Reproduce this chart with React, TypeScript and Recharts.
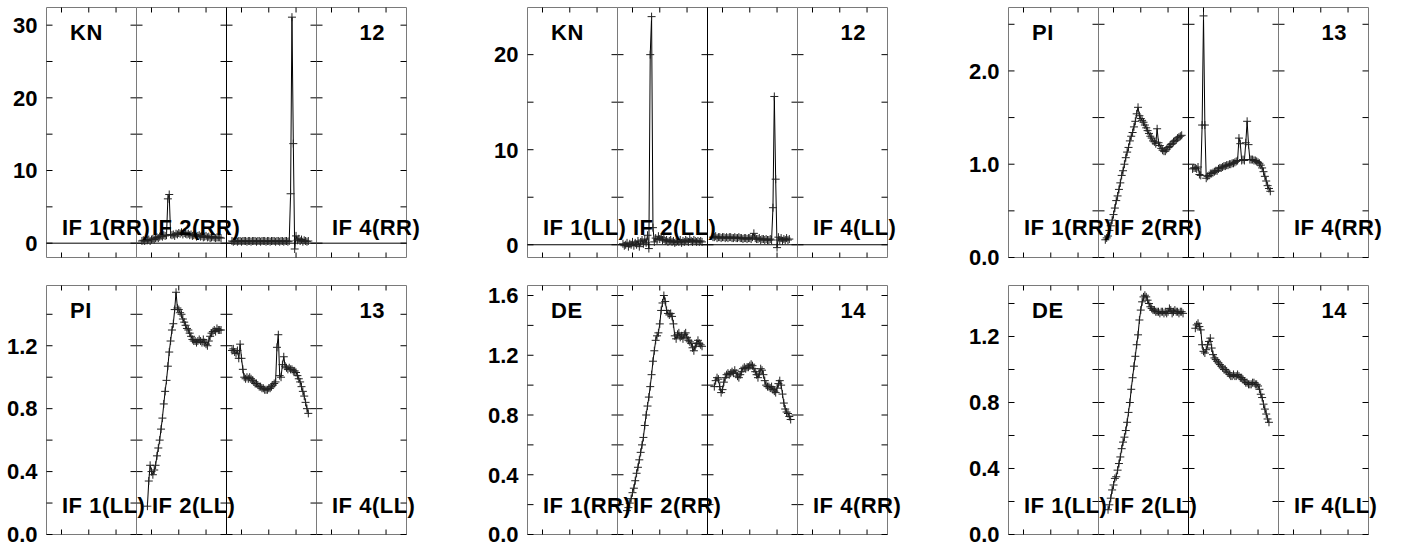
import { LineChart, Line, XAxis, YAxis, ReferenceLine, ReferenceArea } from "recharts";

// channel axis of every IF box
const CHANNEL_DOMAIN: [number, number] = [0, 66];
const CHANNEL_TICKS = [11, 31, 51];
const IF_LABELS = ["IF 1", "IF 2", "IF 3", "IF 4"];
const IF_SHOWN = [true, true, false, true];

// KN, RR, baseline 12
const KN_RR_IF2_START = 4;
const KN_RR_IF2 = [
  0.3, 0.4, 0.3, 0.4, 0.4, 0.5, 0.3, 0.5, 0.6, 0.5,
  0.7, 0.8, 0.7, 0.9, 1.0, 0.9, 1.1, 1.0, 1.1, 6.1,
  6.7, 1.2, 1.1, 1.2, 1.0, 1.3, 1.2, 1.4, 1.3, 1.5,
  1.2, 1.4, 1.3, 1.2, 1.3, 1.1, 1.2, 1.0, 1.1, 1.2,
  0.9, 1.0, 1.1, 0.9, 1.0, 0.8, 0.9, 1.0, 0.8, 0.9,
  0.7, 0.8, 0.9, 0.8, 0.7, 0.8, 0.8, 0.8, 0.7,
];
const KN_RR_IF3_START = 4;
const KN_RR_IF3 = [
  0.3, 0.2, 0.3, 0.3, 0.2, 0.3, 0.3, 0.2, 0.3, 0.3,
  0.3, 0.2, 0.3, 0.3, 0.2, 0.3, 0.3, 0.3, 0.2, 0.3,
  0.3, 0.2, 0.3, 0.3, 0.3, 0.2, 0.3, 0.3, 0.2, 0.3,
  0.3, 0.3, 0.2, 0.3, 0.3, 0.2, 0.3, 0.3, 0.2, 0.3,
  0.3, 0.2, 0.3, 6.8, 31.1, 13.7, -0.8, 1.0, 0.4, 0.6,
  0.3, 0.5, 0.2, 0.4, 0.3, 0.2, 0.3,
];

// KN, LL, baseline 12
const KN_LL_IF2_START = 4;
const KN_LL_IF2 = [
  0.1, -0.1, 0.0, 0.2, -0.2, 0.1, 0.0, 0.3, -0.1, 0.2,
  0.0, 0.4, -0.2, 0.3, 0.5, 0.1, 0.6, 0.2, 1.0, -0.4,
  20.0, 24.0, 1.8, 0.3, 0.7, 0.5, 0.9, 0.6, 0.8, 0.5,
  0.6, 0.4, 0.5, 0.3, 0.4, 0.5, 0.3, 0.4, 0.2, 0.3,
  0.4, 0.3, 0.5, 0.2, 0.4, 0.3, 0.5, 0.4, 0.3, 0.6,
  0.4, 0.3, 0.5, 0.4, 0.3, 0.4, 0.3, 0.4, 0.3,
];
const KN_LL_IF3_START = 4;
const KN_LL_IF3 = [
  0.8, 0.8, 0.9, 0.7, 0.8, 0.8, 0.7, 0.8, 0.8, 0.7,
  0.8, 0.7, 0.8, 0.8, 0.7, 0.7, 0.8, 0.7, 0.7, 0.8,
  0.7, 0.7, 0.6, 0.7, 0.7, 0.6, 0.7, 0.7, 0.6, 0.8,
  1.2, 0.7, 0.6, 0.6, 0.7, 0.5, 0.6, 0.6, 0.5, 0.6,
  0.5, 0.5, 0.6, 0.5, 3.9, 15.6, 6.9, -0.3, 0.8, 0.5,
  0.7, 0.4, 0.6, 0.5, 0.7, 0.5, 0.6,
];

// PI, RR, baseline 13
const PI_RR_IF2_START = 5;
const PI_RR_IF2 = [
  0.19, 0.21, 0.23, 0.29, 0.34, 0.4, 0.46, 0.53, 0.61, 0.66,
  0.73, 0.8, 0.88, 0.93, 1.0, 1.07, 1.13, 1.18, 1.25, 1.3,
  1.34, 1.4, 1.46, 1.54, 1.61, 1.52, 1.49, 1.47, 1.45, 1.42,
  1.39, 1.36, 1.33, 1.3, 1.28, 1.25, 1.24, 1.22, 1.38, 1.23,
  1.2, 1.17, 1.15, 1.14, 1.14, 1.16, 1.18, 1.19, 1.21, 1.22,
  1.24, 1.25, 1.26, 1.28, 1.29, 1.3, 1.31,
];
const PI_RR_IF3_START = 3;
const PI_RR_IF3 = [
  0.95, 0.96, 0.96, 0.95, 0.97, 0.89, 0.88, 1.42, 2.59, 1.42,
  0.85, 0.87, 0.88, 0.9, 0.9, 0.91, 0.92, 0.93, 0.93, 0.95,
  0.96, 0.96, 0.97, 0.98, 0.98, 0.99, 0.99, 1.0, 1.0, 1.01,
  1.01, 1.02, 1.03, 1.04, 1.28, 1.22, 1.04, 1.05, 1.04, 1.23,
  1.46, 1.21, 1.05, 1.05, 1.05, 1.04, 1.04, 1.03, 1.02, 1.01,
  0.99, 0.96, 0.92, 0.87, 0.82, 0.77, 0.74, 0.71,
];

// PI, LL, baseline 13
const PI_LL_IF2_START = 8;
const PI_LL_IF2 = [
  0.18, 0.34, 0.44, 0.4, 0.38, 0.41, 0.44, 0.5, 0.55, 0.6,
  0.67, 0.74, 0.83, 0.91, 0.98, 1.07, 1.16, 1.23, 1.3, 1.34,
  1.43, 1.54, 1.44, 1.43, 1.41, 1.4, 1.37, 1.35, 1.33, 1.31,
  1.3, 1.28, 1.26, 1.24, 1.23, 1.23, 1.22, 1.23, 1.24, 1.23,
  1.22, 1.24, 1.22, 1.21, 1.2, 1.23, 1.26, 1.28, 1.29, 1.3,
  1.29, 1.31, 1.3, 1.3, 1.3,
];
const PI_LL_IF3_START = 4;
const PI_LL_IF3 = [
  1.17, 1.18, 1.16, 1.15, 1.17, 1.12, 1.21, 1.12, 1.05, 1.0,
  0.99, 1.0, 0.99, 1.0, 0.99, 0.98, 0.97, 0.96, 0.96, 0.95,
  0.94, 0.94, 0.93, 0.93, 0.92, 0.92, 0.92, 0.93, 0.93, 0.94,
  0.95, 0.96, 0.97, 1.19, 1.27, 1.01, 1.0, 1.08, 1.13, 1.07,
  1.06, 1.05, 1.06, 1.05, 1.05, 1.04, 1.04, 1.03, 1.01, 0.99,
  0.97, 0.94, 0.91, 0.88, 0.84, 0.8, 0.77,
];

// DE, RR, baseline 14
const DE_RR_IF2_START = 7;
const DE_RR_IF2 = [
  0.16, 0.18, 0.21, 0.24, 0.28, 0.31, 0.36, 0.41, 0.45, 0.5,
  0.55, 0.6, 0.65, 0.73, 0.8, 0.86, 0.92, 0.99, 1.07, 1.16,
  1.23, 1.3, 1.33, 1.35, 1.41, 1.5, 1.55, 1.6, 1.56, 1.5,
  1.48, 1.47, 1.48, 1.46, 1.41, 1.33, 1.31, 1.34, 1.35, 1.32,
  1.33, 1.31, 1.34, 1.35, 1.32, 1.3, 1.29, 1.28, 1.25, 1.23,
  1.26, 1.28, 1.3, 1.28, 1.27, 1.26,
];
const DE_RR_IF3_START = 5;
const DE_RR_IF3 = [
  0.99, 1.03, 1.05, 1.04, 0.99, 0.95, 0.97, 1.02, 1.05, 1.07,
  1.08, 1.07, 1.08, 1.09, 1.08, 1.1, 1.08, 1.06, 1.05, 1.07,
  1.09, 1.11, 1.12, 1.11, 1.12, 1.12, 1.13, 1.14, 1.13, 1.11,
  1.09, 1.07, 1.05, 1.08, 1.11, 1.1, 1.07, 1.03, 1.0, 0.99,
  0.99, 0.98, 0.99, 0.97, 0.96, 0.95, 0.98, 1.01, 1.03, 1.0,
  0.94, 0.88, 0.84, 0.82, 0.81, 0.79, 0.77,
];

// DE, LL, baseline 14
const DE_LL_IF2_START = 7;
const DE_LL_IF2 = [
  0.15, 0.18, 0.22, 0.27, 0.3, 0.34, 0.35, 0.39, 0.43, 0.47,
  0.52, 0.56, 0.59, 0.63, 0.68, 0.74, 0.8, 0.88, 0.95, 1.02,
  1.08, 1.15, 1.21, 1.3, 1.36, 1.41, 1.44, 1.45, 1.44, 1.42,
  1.4, 1.38, 1.37, 1.36, 1.36, 1.35, 1.35, 1.35, 1.34, 1.35,
  1.35, 1.34, 1.35, 1.34, 1.35, 1.37, 1.36, 1.34, 1.35, 1.36,
  1.35, 1.35, 1.34, 1.35, 1.35, 1.34,
];
const DE_LL_IF3_START = 5;
const DE_LL_IF3 = [
  1.25, 1.27, 1.28, 1.26, 1.24, 1.15, 1.11, 1.1, 1.12, 1.15,
  1.17, 1.19, 1.13, 1.09, 1.07, 1.06, 1.05, 1.04, 1.03, 1.02,
  1.01, 1.0, 1.0, 0.99, 0.98, 0.97, 0.96, 0.96, 0.97, 0.96,
  0.96, 0.97, 0.96, 0.95, 0.95, 0.94, 0.93, 0.92, 0.92, 0.91,
  0.91, 0.91, 0.92, 0.92, 0.91, 0.91, 0.9, 0.88, 0.85, 0.83,
  0.79, 0.76, 0.73, 0.7, 0.68,
];

// y axes
const TICKS_KN_RR = [0, 5, 10, 15, 20, 25, 30];
const LABELS_KN_RR = ["0", "", "10", "", "20", "", "30"];
const TICKS_KN_LL = [0, 5, 10, 15, 20];
const LABELS_KN_LL = ["0", "", "10", "", "20"];
const TICKS_PI_RR = [0, 0.5, 1, 1.5, 2, 2.5];
const LABELS_PI_RR = ["0.0", "", "1.0", "", "2.0", ""];
const TICKS_FINE = [0, 0.2, 0.4, 0.6, 0.8, 1, 1.2, 1.4, 1.6];
const LABELS_FINE = ["0.0", "", "0.4", "", "0.8", "", "1.2", "", "1.6"];

type Series = { start: number; values: number[] } | null;
type Panel = {
  source: string;
  pol: string;
  num: string;
  domain: [number, number];
  ticks: number[];
  labels: string[];
  zero: boolean;
  series: Series[];
};

const PANELS: Panel[] = [
  {
    source: "KN", pol: "RR", num: "12", domain: [-1.97, 32.43],
    ticks: TICKS_KN_RR, labels: LABELS_KN_RR, zero: true,
    series: [null, { start: KN_RR_IF2_START, values: KN_RR_IF2 }, { start: KN_RR_IF3_START, values: KN_RR_IF3 }, null],
  },
  {
    source: "KN", pol: "LL", num: "12", domain: [-1.34, 24.96],
    ticks: TICKS_KN_LL, labels: LABELS_KN_LL, zero: true,
    series: [null, { start: KN_LL_IF2_START, values: KN_LL_IF2 }, { start: KN_LL_IF3_START, values: KN_LL_IF3 }, null],
  },
  {
    source: "PI", pol: "RR", num: "13", domain: [0, 2.68],
    ticks: TICKS_PI_RR, labels: LABELS_PI_RR, zero: false,
    series: [null, { start: PI_RR_IF2_START, values: PI_RR_IF2 }, { start: PI_RR_IF3_START, values: PI_RR_IF3 }, null],
  },
  {
    source: "PI", pol: "LL", num: "13", domain: [0, 1.583],
    ticks: TICKS_FINE.slice(0, 8), labels: LABELS_FINE.slice(0, 8), zero: false,
    series: [null, { start: PI_LL_IF2_START, values: PI_LL_IF2 }, { start: PI_LL_IF3_START, values: PI_LL_IF3 }, null],
  },
  {
    source: "DE", pol: "RR", num: "14", domain: [0, 1.667],
    ticks: TICKS_FINE, labels: LABELS_FINE, zero: false,
    series: [null, { start: DE_RR_IF2_START, values: DE_RR_IF2 }, { start: DE_RR_IF3_START, values: DE_RR_IF3 }, null],
  },
  {
    source: "DE", pol: "LL", num: "14", domain: [0, 1.509],
    ticks: TICKS_FINE.slice(0, 8), labels: LABELS_FINE.slice(0, 8), zero: false,
    series: [null, { start: DE_LL_IF2_START, values: DE_LL_IF2 }, { start: DE_LL_IF3_START, values: DE_LL_IF3 }, null],
  },
];

const COL_LEFT = [46, 527, 1008];
const ROW_TOP = [7, 285];
const ROW_H = [250, 249];
const SUB_W = 90;
const LABEL_W = 46;
const PAD = 14;
const YTICK_PX = 6;
const XTICK_PX = 5;
const FRAME = "#7a7a7a";
const FONT = "'Liberation Sans', Arial, Helvetica, sans-serif";

const PlusDot = (props: any) => {
  const { cx, cy, index } = props;
  if (cx == null || cy == null) return <g key={`d${index}`} />;
  return (
    <path
      key={`d${index}`}
      d={`M${cx - 4},${cy}H${cx + 4}M${cx},${cy - 4}V${cy + 4}`}
      stroke="#222"
      strokeWidth={1}
      fill="none"
    />
  );
};

function SubPanel({ panel, idx, left, top, h }: { panel: Panel; idx: number; left: number; top: number; h: number }) {
  const first = idx === 0;
  const s = panel.series[idx];
  const data = s ? s.values.map((v, i) => ({ ch: s.start + i, v })) : [];
  const [x0, x1] = CHANNEL_DOMAIN;
  const [y0, y1] = panel.domain;
  // inward tick length, in data units of each axis
  const tx = (YTICK_PX * (x1 - x0)) / SUB_W;
  const ty = (XTICK_PX * (y1 - y0)) / h;
  const fmt = (v: number) => {
    const k = panel.ticks.indexOf(v);
    return k >= 0 ? panel.labels[k] : "";
  };
  const lw = first ? LABEL_W : 1;
  const ax = { xAxisId: "b", yAxisId: "l", ifOverflow: "visible" as const };
  return (
    <div style={{ position: "absolute", left: left - lw, top: top - PAD }}>
      <LineChart
        width={lw + SUB_W + 1}
        height={h + 2 * PAD}
        data={data}
        margin={{ top: PAD, bottom: PAD, left: first ? 0 : 1, right: 1 }}
      >
        <XAxis xAxisId="b" dataKey="ch" type="number" domain={CHANNEL_DOMAIN} allowDataOverflow hide />
        <YAxis
          yAxisId="l" type="number" domain={panel.domain} ticks={panel.ticks} interval={0}
          allowDataOverflow hide={!first} width={LABEL_W}
          axisLine={false} tickLine={false} tickSize={0} tickMargin={9}
          tick={{ fill: "#000", fontSize: 22, fontWeight: "bold", fontFamily: FONT }}
          tickFormatter={fmt}
        />
        <ReferenceArea {...ax} x1={x0} x2={x1} y1={y0} y2={y1} fill="none" stroke={FRAME} strokeWidth={1} />
        {idx === 1 && <ReferenceLine {...ax} x={x1} stroke="#000" />}
        {idx === 2 && <ReferenceLine {...ax} x={x0} stroke="#000" />}
        {panel.ticks.map((t) => (
          <ReferenceLine key={`yl${t}`} {...ax} stroke="#000" segment={[{ x: x0, y: t }, { x: x0 + tx, y: t }]} />
        ))}
        {panel.ticks.map((t) => (
          <ReferenceLine key={`yr${t}`} {...ax} stroke="#000" segment={[{ x: x1 - tx, y: t }, { x: x1, y: t }]} />
        ))}
        {CHANNEL_TICKS.map((c) => (
          <ReferenceLine key={`xb${c}`} {...ax} stroke="#000" segment={[{ x: c, y: y0 }, { x: c, y: y0 + ty }]} />
        ))}
        {CHANNEL_TICKS.map((c) => (
          <ReferenceLine key={`xt${c}`} {...ax} stroke="#000" segment={[{ x: c, y: y1 - ty }, { x: c, y: y1 }]} />
        ))}
        {panel.zero && <ReferenceLine {...ax} y={0} stroke="#000" strokeWidth={1} />}
        {s && (
          <Line
            xAxisId="b" yAxisId="l" dataKey="v" type="linear"
            stroke="#000" strokeWidth={1} dot={PlusDot} activeDot={false}
            isAnimationActive={false}
          />
        )}
      </LineChart>
    </div>
  );
}

export default function App() {
  return (
    <div style={{ position: "absolute", left: 0, top: 0, width: 1401, height: 552, background: "#fff", overflow: "hidden" }}>
      <div style={{ position: "absolute", left: 0, top: 0, width: 1401, height: 552, transform: "translate(0.5px, 0.5px)" }}>
        {PANELS.map((p, pi) => {
          const col = pi % 3;
          const row = Math.floor(pi / 3);
          return [0, 1, 2, 3].map((k) => (
            <SubPanel
              key={`${pi}-${k}`}
              panel={p}
              idx={k}
              left={COL_LEFT[col] + k * SUB_W}
              top={ROW_TOP[row]}
              h={ROW_H[row]}
            />
          ));
        })}
      </div>
      <svg width={1401} height={552} style={{ position: "absolute", left: 0, top: 0, pointerEvents: "none" }}>
        {PANELS.map((p, pi) => {
          const L = COL_LEFT[pi % 3];
          const row = Math.floor(pi / 3);
          const T = ROW_TOP[row];
          const ifY = T + ROW_H[row] - (row === 0 ? 22 : 21);
          return (
            <g key={`t${pi}`} fontFamily={FONT} fontWeight="bold" fontSize={22} letterSpacing={0.5} fill="#000">
              <text x={L + 24} y={T + 33}>{p.source}</text>
              <text x={L + 339} y={T + 33} textAnchor="end">{p.num}</text>
              {IF_LABELS.map((name, k) =>
                IF_SHOWN[k] ? (
                  <text key={k} x={L + k * SUB_W + 16} y={ifY}>{`${name}(${p.pol})`}</text>
                ) : null
              )}
            </g>
          );
        })}
      </svg>
    </div>
  );
}
